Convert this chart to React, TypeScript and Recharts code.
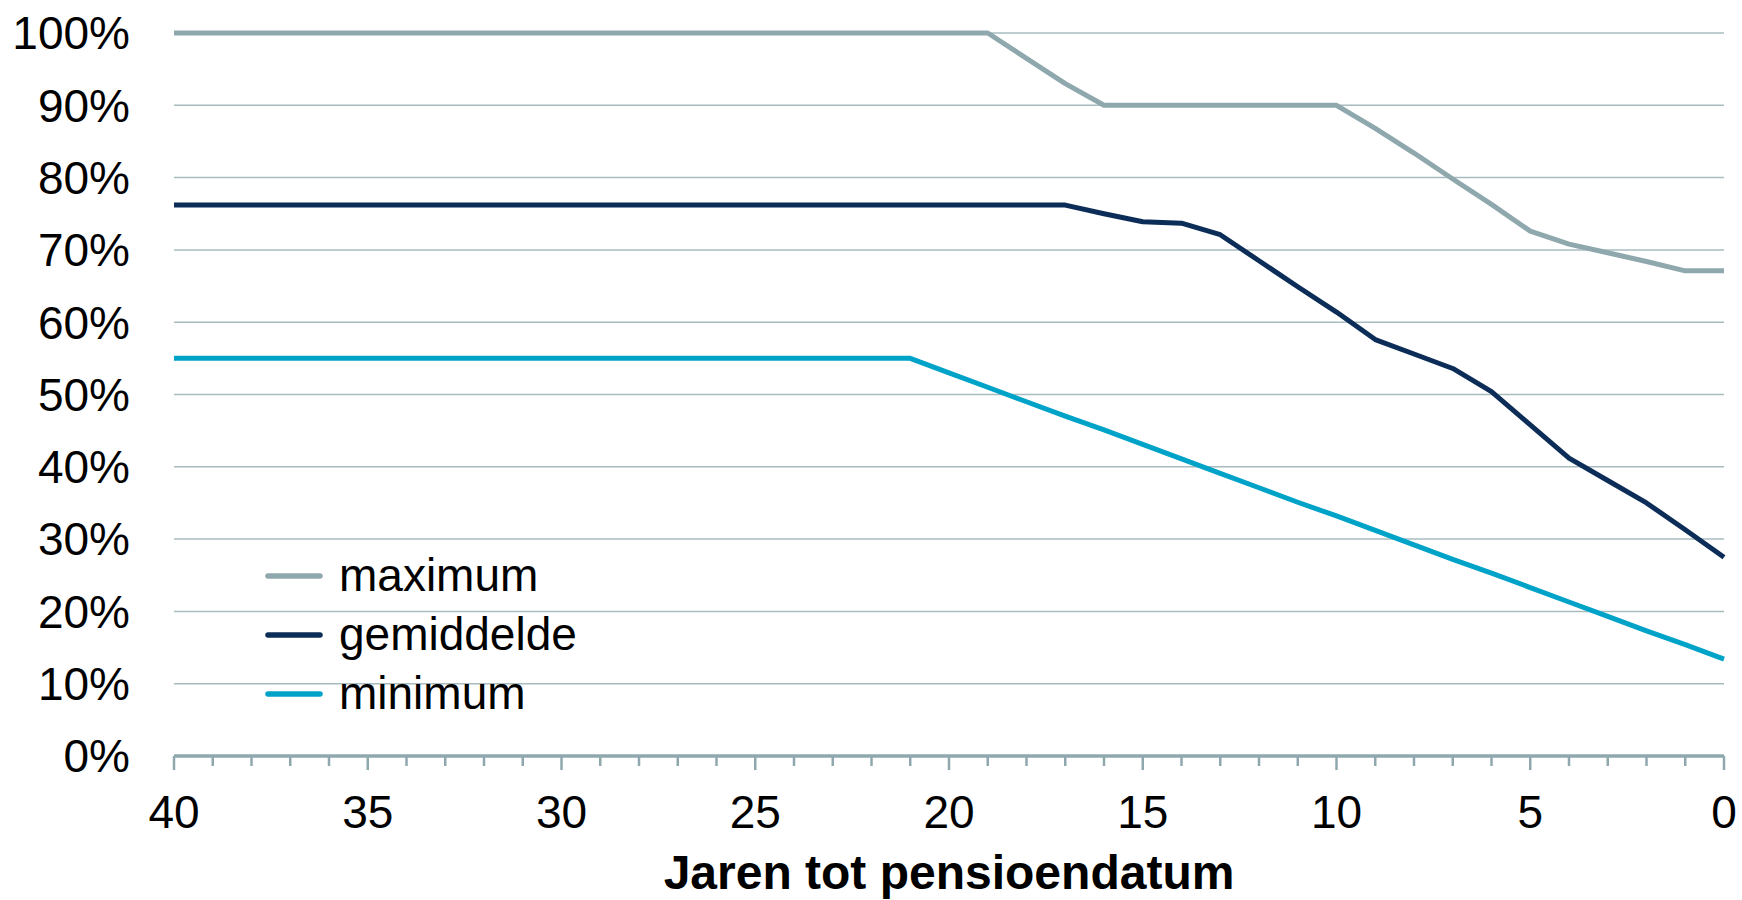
import { LineChart, Line, XAxis, YAxis, CartesianGrid, Legend } from "recharts";

const years = [
  40, 39, 38, 37, 36, 35, 34, 33, 32, 31, 30, 29, 28, 27, 26, 25, 24, 23, 22, 21,
  20, 19, 18, 17, 16, 15, 14, 13, 12, 11, 10, 9, 8, 7, 6, 5, 4, 3, 2, 1, 0,
];

const maximum = [
  100, 100, 100, 100, 100, 100, 100, 100, 100, 100, 100, 100, 100, 100, 100, 100, 100, 100, 100, 100,
  100, 100, 96.5, 93, 90, 90, 90, 90, 90, 90, 90, 86.8, 83.4, 79.8, 76.3, 72.6, 70.8, 69.6, 68.4, 67.1, 67.1,
];

const gemiddelde = [
  76.2, 76.2, 76.2, 76.2, 76.2, 76.2, 76.2, 76.2, 76.2, 76.2, 76.2, 76.2, 76.2, 76.2, 76.2, 76.2, 76.2, 76.2, 76.2, 76.2,
  76.2, 76.2, 76.2, 76.2, 75.0, 73.9, 73.7, 72.1, 68.5, 64.9, 61.4, 57.6, 55.6, 53.6, 50.4, 45.8, 41.2, 38.1, 35.0, 31.3, 27.5,
];

const minimum = [
  55, 55, 55, 55, 55, 55, 55, 55, 55, 55, 55, 55, 55, 55, 55, 55, 55, 55, 55, 55,
  53, 51, 49, 47, 45.1, 43.1, 41.1, 39.1, 37.1, 35.1, 33.2, 31.2, 29.2, 27.2, 25.3, 23.3, 21.3, 19.3, 17.3, 15.4, 13.4,
];

const yTicks = [0, 10, 20, 30, 40, 50, 60, 70, 80, 90, 100];

const series = [
  { key: "maximum", label: "maximum", color: "#8fa8ad" },
  { key: "gemiddelde", label: "gemiddelde", color: "#0c2d58" },
  { key: "minimum", label: "minimum", color: "#00a3c8" },
];

const data = years.map((year, i) => ({
  year,
  maximum: maximum[i],
  gemiddelde: gemiddelde[i],
  minimum: minimum[i],
}));

const FONT = '"Liberation Sans", Arial, sans-serif';
const AXIS = "#8fa8ad";

function YearTick(props: any) {
  const { x, y, payload } = props;
  const major = payload.value % 5 === 0;
  return (
    <g>
      <line x1={x} x2={x} y1={y} y2={y + (major ? 14 : 10)} stroke={AXIS} strokeWidth={2.5} />
      {major && (
        <text x={x} y={y + 72} textAnchor="middle" fontSize={46} fontFamily={FONT} fill="#000">
          {payload.value}
        </text>
      )}
    </g>
  );
}

function renderLegend() {
  return (
    <svg width={320} height={180}>
      {series.map((s, i) => (
        <g key={s.key}>
          <line x1={10} x2={62} y1={30 + i * 59} y2={30 + i * 59} stroke={s.color} strokeWidth={5.5} strokeLinecap="round" />
          <text x={81} y={30 + i * 59 + 15} fontSize={46} fontFamily={FONT} fill="#000">
            {s.label}
          </text>
        </g>
      ))}
    </svg>
  );
}

export default function App() {
  return (
    <div style={{ position: "absolute", left: 0, top: 0, width: 1742, height: 900, background: "#fff" }}>
      <LineChart width={1742} height={900} data={data} margin={{ top: 33, right: 18, left: 0, bottom: 0 }}>
        <CartesianGrid horizontal vertical={false} stroke="#a8bcc0" strokeWidth={1.5} />
        <XAxis
          dataKey="year"
          type="number"
          domain={[0, 40]}
          reversed
          ticks={years}
          interval={0}
          height={144}
          tickSize={0}
          tickMargin={0}
          tick={<YearTick />}
          axisLine={{ stroke: AXIS, strokeWidth: 3.5 }}
          tickLine={false}
          label={{
            value: "Jaren tot pensioendatum",
            position: "insideBottom",
            offset: 11,
            style: { fontSize: 48, fontWeight: "bold", fontFamily: FONT, fill: "#000" },
          }}
        />
        <YAxis
          type="number"
          domain={[0, 100]}
          ticks={yTicks}
          interval={0}
          width={174}
          tickSize={0}
          tickMargin={44}
          axisLine={false}
          tickLine={false}
          tickFormatter={(v: number) => `${v}%`}
          tick={{ fontSize: 46, fontFamily: FONT, fill: "#000" }}
        />
        <Legend
          layout="vertical"
          align="center"
          verticalAlign="middle"
          wrapperStyle={{ left: 258, top: 546, width: 320, height: 180 }}
          content={renderLegend}
        />
        {series.map((s) => (
          <Line
            key={s.key}
            type="linear"
            dataKey={s.key}
            name={s.label}
            stroke={s.color}
            strokeWidth={5}
            strokeLinejoin="round"
            dot={false}
            activeDot={false}
            isAnimationActive={false}
          />
        ))}
      </LineChart>
    </div>
  );
}
